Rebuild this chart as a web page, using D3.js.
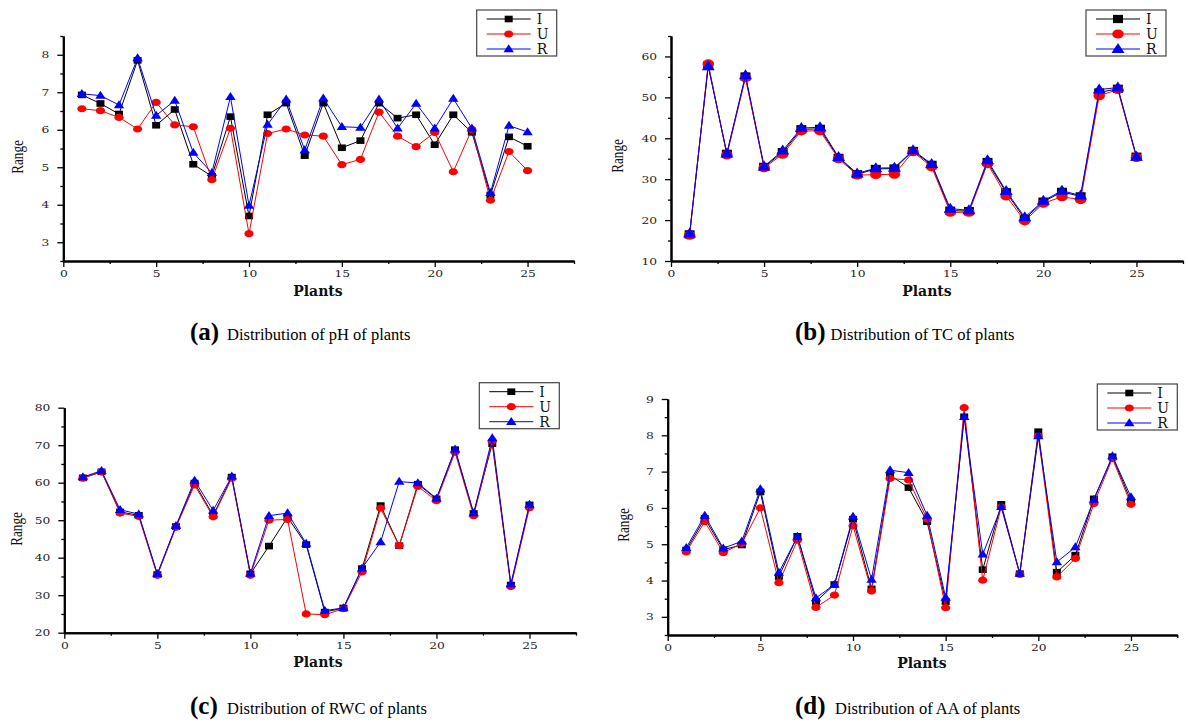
<!DOCTYPE html>
<html><head><meta charset="utf-8">
<script src="https://cdn.jsdelivr.net/npm/d3@7/dist/d3.min.js"></script>
<style>body{margin:0;background:#fff} svg{display:block}</style>
</head><body>
<svg id="c" width="1188" height="723"></svg>
<script>
const plants = [1,2,3,4,5,6,7,8,9,10,11,12,13,14,15,16,17,18,19,20,21,22,23,24,25];
const seriesNames = ["I","U","R"];
const seriesColors = ["#000000","#ff0000","#0000ff"];

const phI = [6.93,6.70,6.42,7.85,6.12,6.54,5.08,4.76,6.35,3.70,6.40,6.71,5.31,6.71,5.52,5.71,6.71,6.31,6.40,5.60,6.40,5.93,4.26,5.81,5.56];
const phU = [6.56,6.51,6.33,6.02,6.73,6.13,6.08,4.67,6.04,3.23,5.90,6.02,5.86,5.83,5.07,5.21,6.47,5.83,5.55,5.93,4.88,6.01,4.12,5.42,4.91];
const phR = [6.96,6.91,6.66,7.91,6.38,6.78,5.39,4.85,6.88,3.98,6.14,6.81,5.46,6.84,6.08,6.06,6.81,6.04,6.70,6.04,6.83,6.04,4.32,6.11,5.94];

const tcI = [16.5,57.8,36.2,55.1,33.0,36.6,42.2,42.3,35.2,31.2,32.5,32.6,36.9,33.5,22.3,22.2,34.2,26.8,20.3,24.5,26.9,25.8,51.2,52.1,35.5];
const tcU = [16.3,58.2,35.9,54.8,32.8,36.1,41.8,41.8,35.0,31.0,31.1,31.2,36.7,33.0,21.9,21.9,33.8,25.9,19.8,24.1,25.7,25.0,50.4,51.9,35.3];
const tcR = [16.7,57.6,36.3,55.4,33.1,37.0,42.5,42.7,35.4,31.4,32.7,32.8,37.1,33.7,22.8,22.4,34.6,27.1,20.7,24.7,27.2,26.0,51.9,52.4,35.5];

const rwcI = [61.3,62.9,52.2,51.3,35.5,48.3,59.9,51.3,61.5,35.7,43.1,50.8,43.5,25.5,26.6,37.1,53.9,43.2,59.6,55.7,68.8,51.8,70.4,32.7,54.1];
const rwcU = [61.2,62.9,51.9,51.0,35.3,48.1,59.4,50.9,61.2,35.3,50.0,50.2,25.0,24.8,26.4,36.2,53.2,43.2,59.0,55.2,68.1,51.2,71.1,32.3,53.3];
const rwcR = [61.5,63.2,52.8,51.6,35.7,48.5,60.6,52.6,61.7,35.8,51.2,51.9,43.8,25.9,26.6,37.2,44.2,60.3,59.9,55.8,68.9,51.9,71.9,33.0,54.2];

const aaI = [4.84,5.71,4.85,4.98,6.44,4.11,5.22,3.42,3.89,5.69,3.77,6.90,6.56,5.62,3.42,8.51,4.30,6.10,4.19,8.10,4.23,4.70,6.25,7.41,6.19];
const aaU = [4.79,5.62,4.77,5.02,6.00,3.94,5.11,3.26,3.60,5.51,3.71,6.81,6.77,5.69,3.25,8.76,4.01,6.03,4.17,7.98,4.10,4.61,6.12,7.36,6.10];
const aaR = [4.90,5.79,4.89,5.08,6.52,4.22,5.21,3.52,3.89,5.76,4.03,7.04,6.97,5.79,3.53,8.51,4.72,6.03,4.19,7.98,4.51,4.92,6.23,7.43,6.30];

const xTicks = [0,5,10,15,20,25];
const xMinorTicks = [2.5,7.5,12.5,17.5,22.5,27.5];
const phTicks = [3,4,5,6,7,8];
const phMinor = [2.5,3.5,4.5,5.5,6.5,7.5,8.5];
const tcTicks = [10,20,30,40,50,60];
const tcMinor = [15,25,35,45,55,65];
const rwcTicks = [20,30,40,50,60,70,80];
const rwcMinor = [25,35,45,55,65,75];
const aaTicks = [3,4,5,6,7,8,9];
const aaMinor = [2.5,3.5,4.5,5.5,6.5,7.5,8.5];

const captionLetters = ["(a)","(b)","(c)","(d)"];
const captionTexts = ["Distribution of pH of plants","Distribution of TC of plants","Distribution of RWC of plants","Distribution of AA of plants"];
const xTitle = "Plants";
const yTitle = "Range";

const svg = d3.select("#c");
const SX = 1.28;

const panels = [
  {series:[phI,phU,phR], yDom:[2.5,8.5], ticks:phTicks, minor:phMinor, x0:63.3, x1:574, yT:36, yB:261,
   big:false, legend:[476.7,10], rangeX:23.3, rangeY:157, plantsX:318, plantsY:296, capX:190, capTX:227, capY:339.5},
  {series:[tcI,tcU,tcR], yDom:[10,65], ticks:tcTicks, minor:tcMinor, x0:671, x1:1183, yT:36, yB:261,
   big:true, legend:[1086,10], rangeX:623, rangeY:156, plantsX:927, plantsY:296, capX:795, capTX:830.5, capY:339.5},
  {series:[rwcI,rwcU,rwcR], yDom:[20,80], ticks:rwcTicks, minor:rwcMinor, x0:64.3, x1:576, yT:407.7, yB:632.7,
   big:false, legend:[479.3,382.7], rangeX:21.5, rangeY:529, plantsX:318, plantsY:667, capX:190, capTX:227, capY:714},
  {series:[aaI,aaU,aaR], yDom:[2.5,9], ticks:aaTicks, minor:aaMinor, x0:667.7, x1:1177.3, yT:399, yB:635,
   big:false, legend:[1097.3,384], rangeX:629, rangeY:525, plantsX:922, plantsY:668, capX:795, capTX:835, capY:714}
];

function marker(g, type, cx, cy, big, color) {
  const k = big ? 1.25 : 1;
  if (type === 0) {
    g.append("rect").attr("x", cx-4*k).attr("y", cy-3.3*k).attr("width", 8*k).attr("height", 6.6*k).attr("fill", color);
  } else if (type === 1) {
    g.append("ellipse").attr("cx", cx).attr("cy", cy).attr("rx", 4.6*k).attr("ry", 3.6*k).attr("fill", color);
  } else {
    const w = 5.2*k, h = 8*k;
    g.append("path").attr("d", `M${cx-w},${cy+h*0.4}L${cx+w},${cy+h*0.4}L${cx},${cy-h*0.6}Z`).attr("fill", color);
  }
}

function styleTicks(sel) {
  sel.selectAll(".tick line").attr("stroke","#000").attr("stroke-width",1.3);
  sel.select(".domain").attr("stroke","#000").attr("stroke-width",2);
  sel.selectAll(".tick text")
    .attr("font-family","DejaVu Serif").attr("font-size",9.6).attr("fill","#222")
    .each(function(){
      const t = d3.select(this);
      const xv = +t.attr("x") || 0;
      t.attr("x", xv / SX).attr("transform", `scale(${SX},1)`);
    });
}

panels.forEach((p, i) => {
  const g = svg.append("g");
  const x = d3.scaleLinear().domain([0,27.5]).range([p.x0, p.x1]);
  const y = d3.scaleLinear().domain(p.yDom).range([p.yB, p.yT]);

  const gxm = g.append("g").attr("transform",`translate(0,${p.yB})`)
    .call(d3.axisBottom(x).tickValues(xMinorTicks).tickSize(3).tickSizeOuter(0).tickFormat(""));
  styleTicks(gxm);
  const gym = g.append("g").attr("transform",`translate(${p.x0},0)`)
    .call(d3.axisLeft(y).tickValues(p.minor).tickSize(3).tickSizeOuter(0).tickFormat(""));
  styleTicks(gym);
  const gx = g.append("g").attr("transform",`translate(0,${p.yB})`)
    .call(d3.axisBottom(x).tickValues(xTicks).tickSize(6).tickPadding(3).tickSizeOuter(0).tickFormat(d3.format("d")));
  styleTicks(gx);
  const gy = g.append("g").attr("transform",`translate(${p.x0},0)`)
    .call(d3.axisLeft(y).tickValues(p.ticks).tickSize(6).tickPadding(8).tickSizeOuter(0).tickFormat(d3.format("d")));
  styleTicks(gy);

  const line = d3.line().x((d,j) => x(plants[j])).y(d => y(d));
  p.series.forEach((vals, s) => {
    g.append("path").datum(vals).attr("d", line).attr("fill","none")
      .attr("stroke", seriesColors[s]).attr("stroke-width", 1);
    vals.forEach((v, j) => marker(g, s, x(plants[j]), y(v), p.big, seriesColors[s]));
  });

  const [lx, ly] = p.legend;
  const lg = g.append("g");
  lg.append("rect").attr("x", lx).attr("y", ly).attr("width", 80).attr("height", 46)
    .attr("fill","#fff").attr("stroke","#444").attr("stroke-width",1.2);
  seriesNames.forEach((n, s) => {
    const yy = ly + 9 + s*15;
    lg.append("line").attr("x1", lx+10).attr("x2", lx+54).attr("y1", yy).attr("y2", yy)
      .attr("stroke", seriesColors[s]).attr("stroke-width",1);
    marker(lg, s, lx+32, yy, p.big, seriesColors[s]);
    lg.append("text").attr("x", lx+60).attr("y", yy+5).text(n)
      .attr("font-family","DejaVu Serif").attr("font-size",14).attr("fill","#111");
  });

  g.append("text").attr("transform",`translate(${p.rangeX},${p.rangeY}) rotate(-90) scale(0.8,1)`)
    .attr("text-anchor","middle").attr("font-family","Liberation Serif").attr("font-size",16.5)
    .attr("fill","#111").text(yTitle);
  g.append("text").attr("x", p.plantsX).attr("y", p.plantsY).attr("text-anchor","middle")
    .attr("font-family","DejaVu Serif").attr("font-weight","bold").attr("font-size",14)
    .attr("fill","#111").text(xTitle);

  g.append("text").attr("x", p.capX).attr("y", p.capY).attr("font-family","Liberation Serif")
    .attr("font-weight","bold").attr("font-size",25).attr("fill","#000").text(captionLetters[i]);
  g.append("text").attr("x", p.capTX).attr("y", p.capY).attr("font-family","Liberation Serif")
    .attr("font-size",16.5).attr("fill","#000").text(captionTexts[i]);
});
</script>
</body></html>
